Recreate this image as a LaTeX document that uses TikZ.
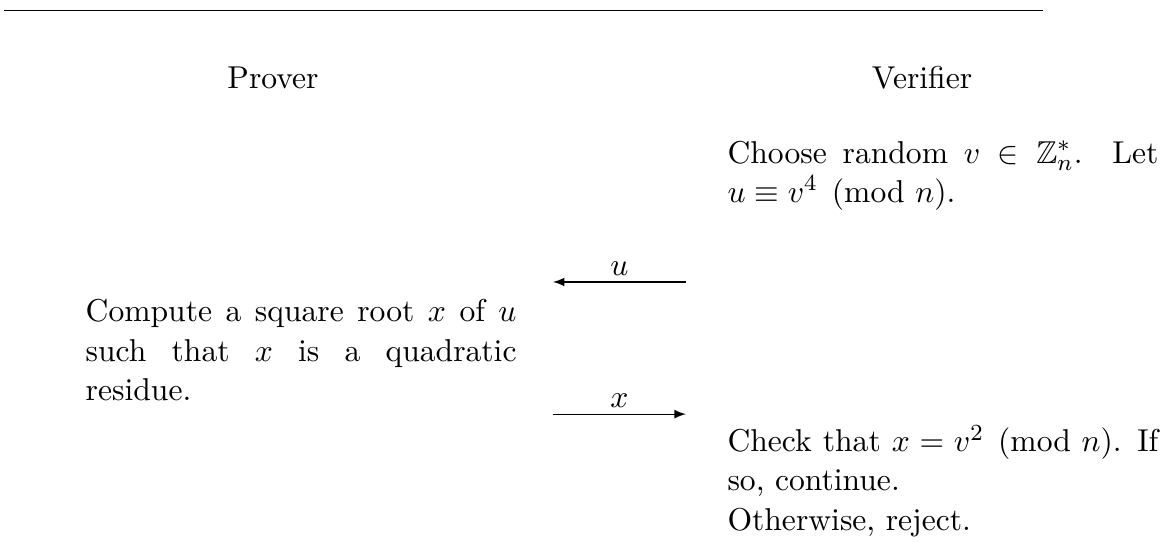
\documentclass[tikz,border=0pt,11pt]{standalone}
\usepackage{amsmath,amssymb}
\usetikzlibrary{positioning}

\begin{document}
\begin{tikzpicture}[x=1pt, y=1pt, every node/.style={inner sep=0pt},
	box/.style={text width=149.3pt, align=justify, anchor=base west},
	party/.style={anchor=base}, msg/.style={-latex}]
	\useasboundingbox (0,0) rectangle (403,-187.5);
	\draw (1.4,-3.5) -- (361.4,-3.5);
	\node[party] (Prover) at (94.6,-30.5) {Prover};
	\node[party] (Verifier) at (319.5,-30.5) {Verifier};
	\node[box] (Choose) at (251.9,-56.5) {Choose random $v \in \mathbb{Z}_n^*$. Let $u \equiv v^4 \pmod{n}$.};
	\node[box] (Root) at (29.5,-111.5) {Compute a square root $x$ of $u$\linebreak such that $x$ is a quadratic residue.};
	\node[box] (Check) at (251.9,-156.5) {Check that $x = v^2 \pmod{n}$. If so, continue.\\ Otherwise, reject.};
	\coordinate (uFrom) at (237.7,-97.7);
	\coordinate[left=46.1pt of uFrom] (uTo);
	\coordinate (xFrom) at (191.6,-143.5);
	\coordinate[right=46.1pt of xFrom] (xTo);
	\draw[msg] (uFrom) -- node[above=2pt] (uLabel) {$u$} (uTo);
	\draw[msg] (xFrom) -- node[above=2pt] (xLabel) {$x$} (xTo);
\end{tikzpicture}
\end{document}
